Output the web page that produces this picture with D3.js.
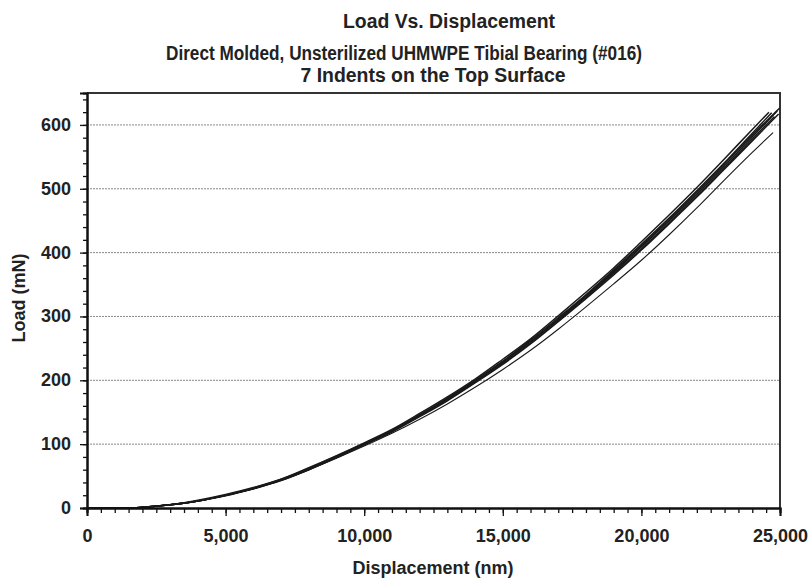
<!DOCTYPE html>
<html>
<head>
<meta charset="utf-8">
<script src="https://cdn.jsdelivr.net/npm/d3@7"></script>
<style>
  body { margin: 0; background: #fff; }
  text { font-family: "Liberation Sans", Arial, sans-serif; font-weight: bold; fill: #222; }
</style>
</head>
<body>
<div id="chart"></div>
<script>

// displacement grid (nm) shared by all indents
var disp = [0, 1000, 1500, 2000, 3000, 4000, 5000, 6000, 7000, 8000, 9000, 10000, 11000, 12000,
            13000, 14000, 15000, 16000, 17000, 18000, 19000, 20000, 21000, 22000, 23000, 24000];

// load (mN) for each of the 7 indents
var indent1 = [0,0,0,1,5,11,20,31,44,61,80,100,121,145,170,198,228,260,295,331,369,409,450,492,536,581];
var indent2 = [0,0,0,1,5,11,20,31,45,62,81,101,122,146,172,200,230,263,298,334,373,413,454,497,541,587];
var indent3 = [0,0,0,1,5,11,19,30,43,60,79,99,119,143,168,196,225,257,292,328,365,404,445,487,531,575];
var indent4 = [0,0,0,1,5,12,21,32,45,63,82,102,123,148,174,202,233,265,301,338,376,417,459,502,547,593];
var indent5 = [0,0,0,1,5,11,20,31,44,61,80,100,121,145,171,199,229,261,296,333,371,411,452,495,539,584];
var indent6 = [0,0,0,1,5,11,20,30,44,60,79,99,120,144,169,197,226,258,293,329,367,406,447,489,533,578];
var indent7 = [0,0,0,1,5,11,20,30,43,60,78,97,117,139,163,189,217,247,280,315,351,388,428,470,514,557];

// last recorded point of each indent
var endDisp = [24900, 24700, 24950, 24600, 25000, 24800, 24750];
var endLoad = [622, 619, 617, 620, 627, 613, 588];

var yTicks = [0, 100, 200, 300, 400, 500, 600];
var xTicks = [0, 5000, 10000, 15000, 20000, 25000];

var titleLines = ["Load Vs. Displacement",
                  "Direct Molded, Unsterilized UHMWPE Tibial Bearing (#016)",
                  "7 Indents on the Top Surface"];

function init() {

	var w = 812;
	var h = 578;
	var left = 87, right = 780, top = 93, bottom = 508;

	var svg = d3.select("#chart")
				.append("svg")
				.attr("width", w)
				.attr("height", h);

	var xScale = d3.scaleLinear()
				.domain([0, 25000])
				.range([left, right]);

	var yScale = d3.scaleLinear()
				.domain([0, 650])
				.range([bottom, top]);

	// titles (the scanned font is a little condensed, so squeeze to the measured widths)
	var titleX = [449, 404, 433];
	var titleY = [28, 60, 82];
	var titleWidth = [212, 476, 265];
	svg.selectAll(".title")
		.data(titleLines)
		.enter()
		.append("text")
		.attr("class", "title")
		.attr("x", function(d, i){ return titleX[i]; })
		.attr("y", function(d, i){ return titleY[i]; })
		.attr("text-anchor", "middle")
		.attr("textLength", function(d, i){ return titleWidth[i]; })
		.attr("lengthAdjust", "spacingAndGlyphs")
		.style("font-size", "19.5px")
		.text(function(d){ return d; });

	// gridlines
	svg.selectAll(".grid")
		.data(yTicks.slice(1))
		.enter()
		.append("line")
		.attr("class", "grid")
		.attr("x1", left)
		.attr("x2", right)
		.attr("y1", function(d){ return yScale(d); })
		.attr("y2", function(d){ return yScale(d); })
		.attr("stroke", "#888")
		.attr("stroke-width", 1)
		.attr("stroke-dasharray", "2,1");

	// frame top and right
	svg.append("path")
		.attr("d", "M" + left + "," + top + "H" + right + "V" + bottom)
		.attr("fill", "none")
		.attr("stroke", "#333")
		.attr("stroke-width", 2);

	// curves
	var indents = [indent1, indent2, indent3, indent4, indent5, indent6, indent7];
	var line = d3.line()
				.x(function(d){ return xScale(d[0]); })
				.y(function(d){ return yScale(d[1]); })
				.curve(d3.curveMonotoneX);

	indents.forEach(function(loads, k){
		var pts = disp.map(function(x, i){ return [x, loads[i]]; });
		pts.push([endDisp[k], endLoad[k]]);
		svg.append("path")
			.datum(pts)
			.attr("d", line)
			.attr("fill", "none")
			.attr("stroke", "#1a1a1a")
			.attr("stroke-width", k == 6 ? 1.1 : 1.5);
	});

	// x axis
	svg.append("g")
		.attr("transform", "translate(0," + bottom + ")")
		.call(d3.axisBottom(xScale).ticks(50).tickSize(5).tickFormat(""));
	var xAxis = svg.append("g")
			.attr("transform", "translate(0," + bottom + ")")
			.call(d3.axisBottom(xScale).tickValues(xTicks).tickSize(8).tickFormat(d3.format(",")));
	xAxis.selectAll("text").style("font-size", "18px").attr("dy", "1.3em");

	// y axis
	svg.append("g")
		.attr("transform", "translate(" + left + ",0)")
		.call(d3.axisLeft(yScale).tickValues(d3.range(0, 660, 20)).tickSize(4).tickFormat(""));
	var yAxis = svg.append("g")
			.attr("transform", "translate(" + left + ",0)")
			.call(d3.axisLeft(yScale).tickValues(yTicks).tickSize(7));
	yAxis.selectAll("text").style("font-size", "18px").attr("x", -16).attr("dy", "0.3em");

	svg.selectAll(".domain").attr("stroke", "#111").attr("stroke-width", 2);
	svg.selectAll(".tick line").attr("stroke", "#111").attr("stroke-width", 1.3);
	svg.selectAll(".tick text").attr("fill", "#222");

	// axis titles
	svg.append("text")
		.attr("x", 433)
		.attr("y", 574)
		.attr("text-anchor", "middle")
		.style("font-size", "18px")
		.text("Displacement (nm)");

	svg.append("text")
		.attr("transform", "translate(25,298) rotate(-90)")
		.attr("text-anchor", "middle")
		.style("font-size", "18px")
		.text("Load (mN)");
}

window.onload = init;
</script>
</body>
</html>
